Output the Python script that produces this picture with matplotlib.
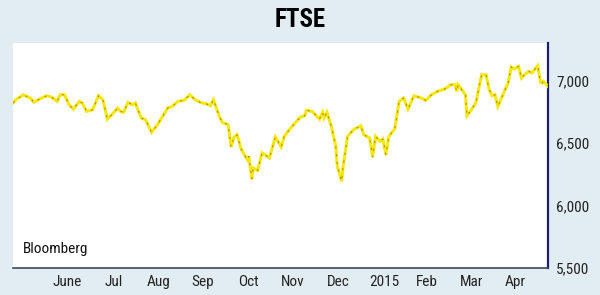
import pandas as pd
import matplotlib
matplotlib.use("Agg")
import matplotlib.pyplot as plt
from matplotlib import font_manager

# FTSE 100 close (approximate)
dates = [
    "2014-05-09", "2014-05-11", "2014-05-16", "2014-05-19", "2014-05-21", "2014-05-23",
    "2014-05-27", "2014-06-01", "2014-06-04", "2014-06-08", "2014-06-10", "2014-06-13",
    "2014-06-16", "2014-06-19", "2014-06-23", "2014-06-25", "2014-06-28", "2014-07-02",
    "2014-07-06", "2014-07-09", "2014-07-12", "2014-07-15", "2014-07-18", "2014-07-19",
    "2014-07-21", "2014-07-23", "2014-07-26", "2014-07-29", "2014-07-31", "2014-08-04",
    "2014-08-07", "2014-08-11", "2014-08-15", "2014-08-22", "2014-08-25", "2014-08-29",
    "2014-09-02", "2014-09-06", "2014-09-09", "2014-09-13", "2014-09-17", "2014-09-20",
    "2014-09-22", "2014-09-26", "2014-09-28", "2014-10-02", "2014-10-04", "2014-10-06",
    "2014-10-08", "2014-10-11", "2014-10-15", "2014-10-16", "2014-10-18", "2014-10-19",
    "2014-10-22", "2014-10-25", "2014-10-28", "2014-10-30", "2014-11-03", "2014-11-07",
    "2014-11-09", "2014-11-14", "2014-11-20", "2014-11-23", "2014-11-24", "2014-11-28",
    "2014-12-03", "2014-12-05", "2014-12-06", "2014-12-08", "2014-12-11", "2014-12-14",
    "2014-12-15", "2014-12-18", "2014-12-19", "2014-12-22", "2014-12-26", "2014-12-31",
    "2015-01-02", "2015-01-06", "2015-01-08", "2015-01-10", "2015-01-13", "2015-01-15",
    "2015-01-17", "2015-01-19", "2015-01-23", "2015-01-26", "2015-01-29", "2015-02-01",
    "2015-02-05", "2015-02-10", "2015-02-13", "2015-02-17", "2015-02-21", "2015-02-26",
    "2015-03-02", "2015-03-05", "2015-03-06", "2015-03-07", "2015-03-12", "2015-03-13",
    "2015-03-16", "2015-03-19", "2015-03-23", "2015-03-26", "2015-03-28", "2015-03-30",
    "2015-04-01", "2015-04-03", "2015-04-05", "2015-04-09", "2015-04-10", "2015-04-12",
    "2015-04-14", "2015-04-17", "2015-04-19", "2015-04-21", "2015-04-24", "2015-04-26",
    "2015-04-30", "2015-05-02", "2015-05-03", "2015-05-04", "2015-05-07",
]
ftse = [
    6820, 6846, 6886, 6868, 6860, 6825,
    6852, 6878, 6868, 6833, 6886, 6886,
    6806, 6772, 6833, 6820, 6753, 6766,
    6878, 6846, 6692, 6726, 6766, 6780,
    6753, 6745, 6825, 6806, 6820, 6700,
    6686, 6585, 6646, 6780, 6793, 6833,
    6841, 6886, 6852, 6825, 6814, 6798,
    6846, 6713, 6665, 6646, 6468, 6548,
    6566, 6446, 6366, 6393, 6212, 6300,
    6281, 6420, 6398, 6380, 6548, 6468,
    6553, 6628, 6708, 6718, 6761, 6753,
    6692, 6745, 6700, 6745, 6633, 6473,
    6318, 6193, 6313, 6553, 6606, 6638,
    6566, 6540, 6388, 6553, 6513, 6532,
    6406, 6553, 6612, 6833, 6860, 6772,
    6878, 6860, 6841, 6886, 6913, 6932,
    6966, 6966, 6913, 6966, 6886, 6718,
    6766, 6820, 7046, 7046, 6932, 6878,
    6886, 6793, 6846, 6958, 6980, 7108,
    7092, 7113, 7020, 7046, 7073, 7060,
    7118, 6985, 6980, 6993, 6953,
]

month_ticks = ["2014-06-15", "2014-07-16", "2014-08-16", "2014-09-15", "2014-10-16",
               "2014-11-15", "2014-12-16", "2015-01-16", "2015-02-14", "2015-03-16",
               "2015-04-15"]
month_labels = ["June", "Jul", "Aug", "Sep", "Oct", "Nov", "Dec", "2015", "Feb", "Mar", "Apr"]
y_ticks = [5500, 6000, 6500, 7000]

# look for a narrow sans font, the original uses a condensed face
installed = {f.name for f in font_manager.fontManager.ttflist}
narrow = None
for name in ["Liberation Sans Narrow", "DejaVu Sans Condensed", "Roboto Condensed",
             "Open Sans Condensed"]:
    if name in installed:
        narrow = name
        break
if narrow is None:
    narrow = "DejaVu Sans"
    for f in font_manager.fontManager.ttflist:
        if "condensed" in str(f.stretch).lower() and "Mono" not in f.name and "Serif" not in f.name:
            narrow = f.name
            break
plt.rcParams["font.family"] = [narrow, "DejaVu Sans"]
plt.rcParams["font.stretch"] = "condensed"

bg = "#e1edf2"
fig = plt.figure(figsize=(6, 2.95), dpi=100, facecolor=bg)
ax = fig.add_axes([13 / 600, 27 / 295, 535 / 600, 225 / 295])
ax.set_facecolor("white")

x = pd.to_datetime(dates)
ax.plot(x, ftse, color="#f0ea10", lw=2.2, solid_joinstyle="miter", zorder=3)
ax.plot(x, ftse, color="#d05a1a", lw=0.8, ls=(0, (2, 5)), alpha=0.75, zorder=4)

ax.set_xlim(pd.Timestamp("2014-05-09"), pd.Timestamp("2015-05-07"))
ax.set_ylim(5500, 7300)

ax.yaxis.tick_right()
ax.set_yticks(y_ticks)
ax.set_yticklabels([f"{v:,}" for v in y_ticks])
ax.set_xticks(pd.to_datetime(month_ticks))
ax.set_xticklabels(month_labels)
ax.tick_params(axis="both", length=0, labelsize=11, colors="#222222")
ax.tick_params(axis="x", pad=5)
ax.tick_params(axis="y", pad=6)

for side in ["top", "left"]:
    ax.spines[side].set_visible(False)
ax.spines["right"].set_color("#1e1e70")
ax.spines["right"].set_linewidth(1.6)
ax.spines["bottom"].set_color("#3b4a5a")
ax.spines["bottom"].set_linewidth(1.2)

ax.text(0.018, 0.055, "Bloomberg", transform=ax.transAxes, fontsize=11,
        color="#111111", ha="left", va="bottom")
fig.text(0.5, 0.932, "FTSE", ha="center", va="center", fontsize=18,
         fontweight="heavy", color="black")

fig.savefig("out.png", dpi=100, facecolor=bg)
